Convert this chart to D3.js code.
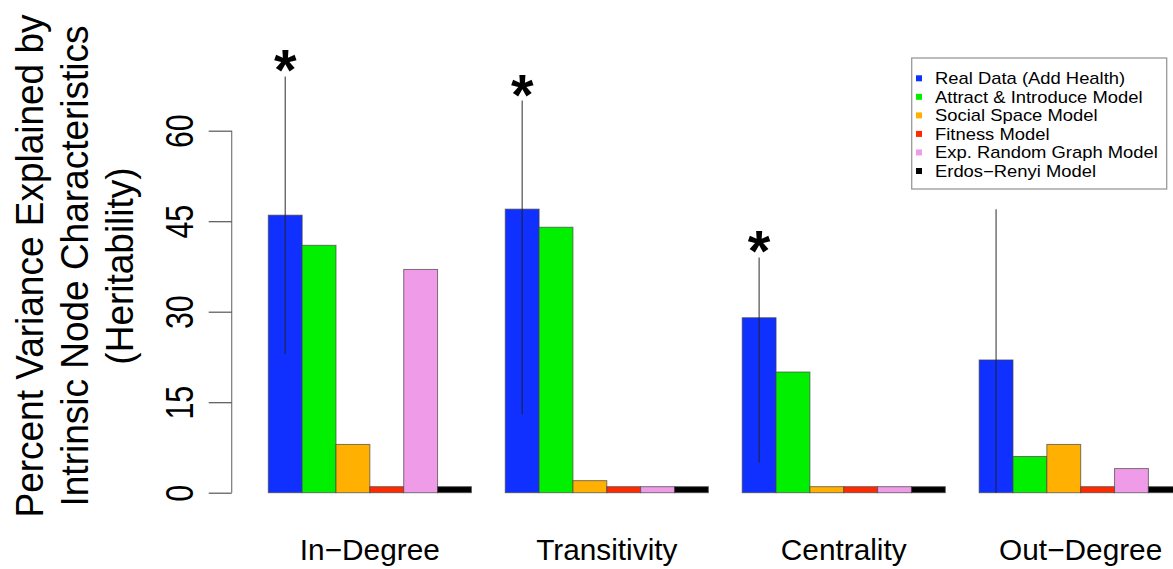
<!DOCTYPE html>
<html>
<head>
<meta charset="utf-8">
<script src="https://cdn.jsdelivr.net/npm/d3@7"></script>
<style>
  html, body { margin: 0; padding: 0; background: #fff; }
  svg { display: block; font-family: "Liberation Sans", Arial, Helvetica, sans-serif; }
</style>
</head>
<body>
<svg id="chart" width="1173" height="569"></svg>
<script>
// ---- data ----
const categories = ["In\u2212Degree", "Transitivity", "Centrality", "Out\u2212Degree"];
const seriesNames = [
  "Real Data (Add Health)",
  "Attract & Introduce Model",
  "Social Space Model",
  "Fitness Model",
  "Exp. Random Graph Model",
  "Erdos\u2212Renyi Model"
];
const realData   = [46, 47, 29, 22];
const attract    = [41, 44, 20, 6];
const socialSpace = [8, 2, 1, 8];
const fitness    = [1, 1, 1, 1];
const expRandom  = [37, 1, 1, 4];
const erdosRenyi = [1, 1, 1, 1];
const errLow     = [23, 13, 5, 0];
const errHigh    = [69, 65, 39, 47];
const significant = [true, true, true, false];
const yTicks = [0, 15, 30, 45, 60];
const seriesColors = ["#0f30ff", "#00f000", "#ffb000", "#ff2a00", "#f09be8", "#000000"];

const seriesValues = [realData, attract, socialSpace, fitness, expRandom, erdosRenyi];

// ---- layout ----
const svg = d3.select("#chart");
const barW = 33.85;
const xStart = 268.3;
const y = d3.scaleLinear().domain([0, 60]).range([492.7, 130.7]);

const x0 = d3.scaleBand()
  .domain(categories)
  .range([xStart, xStart + 27 * barW])
  .paddingInner(1 / 7)
  .paddingOuter(0);

const x1 = d3.scaleBand()
  .domain(seriesNames)
  .range([0, x0.bandwidth()])
  .padding(0);

// y axis
const yAxis = d3.axisLeft(y).tickValues(yTicks).tickSize(23).tickFormat(d3.format("d"));
const gy = svg.append("g").attr("transform", "translate(231.7,0)").call(yAxis);
gy.select(".domain").attr("stroke", "#777").attr("stroke-width", 1.2)
  .attr("d", `M0,${y(60)}V${y(0)}`);
gy.selectAll(".tick line").attr("stroke", "#555").attr("stroke-width", 1.2);
gy.selectAll(".tick text").remove();
gy.selectAll(".tick").append("text")
  .attr("transform", "translate(-38.5,0) rotate(-90) scale(0.95,1.2)")
  .attr("text-anchor", "middle")
  .attr("fill", "#000")
  .style("font-size", "32px")
  .text(d => d);

// bars
const groups = svg.append("g").selectAll("g")
  .data(categories)
  .join("g")
  .attr("transform", d => `translate(${x0(d)},0)`);

groups.selectAll("rect")
  .data((c, ci) => seriesNames.map((s, si) => ({ s, si, v: seriesValues[si][ci] })))
  .join("rect")
  .attr("x", d => x1(d.s))
  .attr("width", x1.bandwidth())
  .attr("y", d => y(d.v))
  .attr("height", d => y(0) - y(d.v))
  .attr("fill", d => seriesColors[d.si])
  .attr("stroke", "#444")
  .attr("stroke-opacity", 0.7)
  .attr("stroke-width", 1);

// error bars
const errG = svg.append("g");
categories.forEach((c, ci) => {
  const cx = x0(c) + x1(seriesNames[0]) + x1.bandwidth() / 2;
  errG.append("line")
    .attr("x1", cx).attr("x2", cx)
    .attr("y1", y(errHigh[ci])).attr("y2", y(errLow[ci]))
    .attr("stroke", "#222").attr("stroke-opacity", 0.8).attr("stroke-width", 1.2);
  if (significant[ci]) {
    errG.append("text")
      .attr("x", cx)
      .attr("y", y(errHigh[ci]) + 14)
      .attr("text-anchor", "middle")
      .style("font-size", "58px")
      .style("font-weight", "bold")
      .attr("fill", "#000")
      .text("*");
  }
});

// category labels
svg.append("g").selectAll("text")
  .data(categories)
  .join("text")
  .attr("x", d => x0(d) + x0.bandwidth() / 2)
  .attr("y", 560)
  .attr("text-anchor", "middle")
  .style("font-size", "29.8px")
  .attr("fill", "#000")
  .text(d => d);

// y title
const titleLines = ["Percent Variance Explained by", "Intrinsic Node Characteristics", "(Heritability)"];
const titleBaselines = [43, 88, 133];
svg.append("g").selectAll("text")
  .data(titleLines)
  .join("text")
  .attr("transform", (d, i) => `translate(${titleBaselines[i]},266) rotate(-90) scale(1,1.05)`)
  .attr("text-anchor", "middle")
  .style("font-size", "37px")
  .attr("fill", "#000")
  .text(d => d);

// legend
const lg = svg.append("g");
lg.append("rect")
  .attr("x", 911.7).attr("y", 58).attr("width", 255).attr("height", 131)
  .attr("fill", "#fff").attr("stroke", "#999").attr("stroke-width", 1.3);
const rowY = d3.scalePoint().domain(seriesNames).range([78.3, 171]);
seriesNames.forEach((s, i) => {
  lg.append("rect")
    .attr("x", 916).attr("y", rowY(s) - 3).attr("width", 6).attr("height", 6)
    .attr("fill", seriesColors[i]);
  lg.append("text")
    .attr("transform", `translate(935,${rowY(s) + 5.8}) scale(1.15,1)`)
    .style("font-size", "16px")
    .attr("fill", "#000")
    .text(s);
});
</script>
</body>
</html>
